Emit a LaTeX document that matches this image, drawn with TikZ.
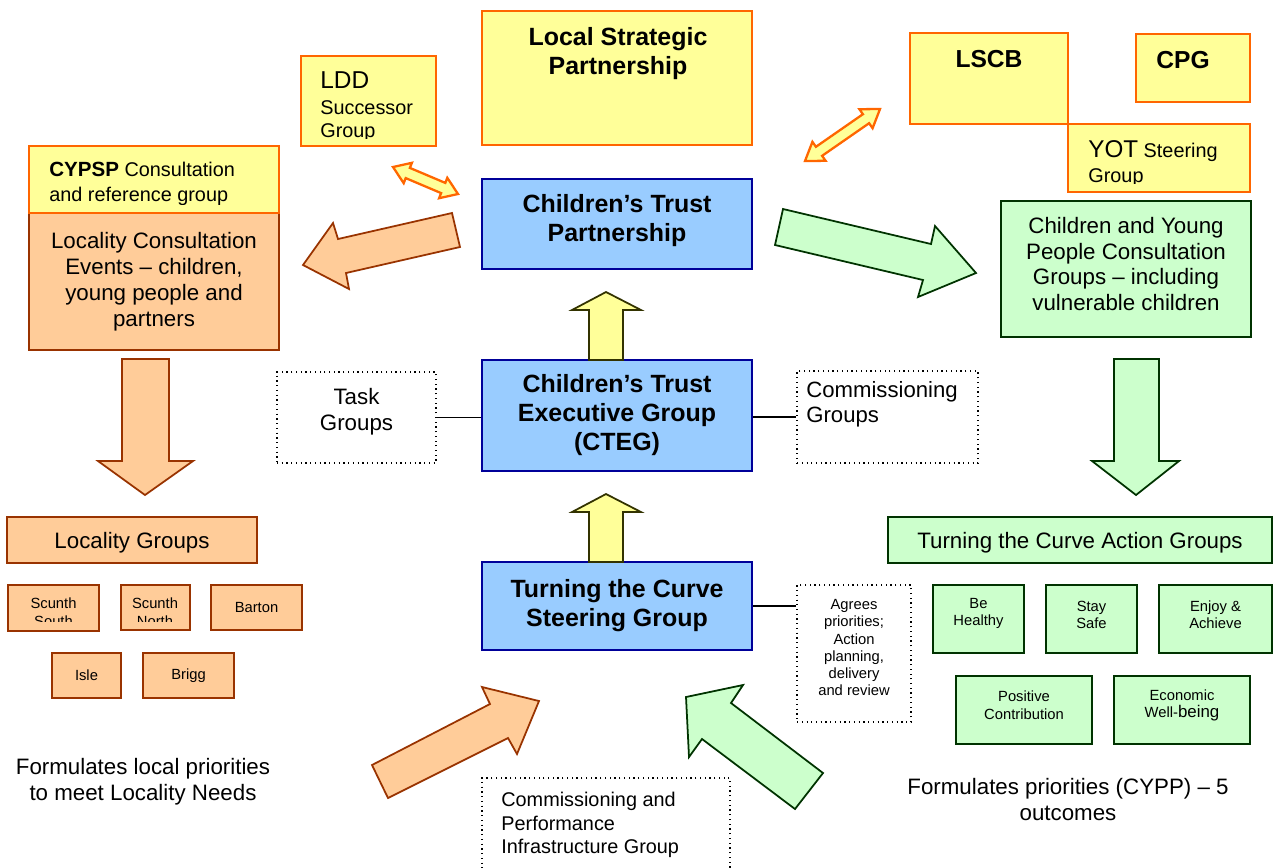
\documentclass[tikz,border=0pt]{standalone}
\usepackage{fontspec}
\setmainfont{Liberation Sans}
\definecolor{lemon}{HTML}{FFFF99}
\definecolor{tangerine}{HTML}{FF6600}
\definecolor{peach}{HTML}{FFCC99}
\definecolor{rust}{HTML}{993300}
\definecolor{mint}{HTML}{CCFFCC}
\definecolor{pine}{HTML}{003300}
\definecolor{sky}{HTML}{99CCFF}
\definecolor{navyline}{HTML}{000099}
\definecolor{darkolive}{HTML}{333300}
\tikzset{
  corners/.style args={#1/#2/#3/#4}{anchor=center,at={({(#1+#3)/2},{(#2+#4)/2})},
    minimum width={(#3-#1)*0.02cm},minimum height={(#4-#2)*0.02cm}},
  lift/.style={text depth=#1},
  txtbig/.style={font=\fontsize{12.7}{14.7}\selectfont},
  txtsmall/.style={font=\fontsize{8.4}{9.8}\selectfont},
  lbl/.style={inner sep=0pt},
  ybox/.style={draw=tangerine,fill=lemon,line width=1pt,inner sep=0pt},
  obox/.style={draw=rust,fill=peach,line width=1pt,inner sep=0pt,align=center},
  gbox/.style={draw=pine,fill=mint,line width=1pt,inner sep=0pt,align=center},
  bbox/.style={draw=navyline,fill=sky,line width=1pt,inner sep=0pt,align=center,
    font=\bfseries\fontsize{14.2}{16.5}\selectfont},
  dbox/.style={draw,dotted,line width=0.7pt,inner sep=0pt,align=center},
  oarrow/.style={draw=rust,fill=peach,line width=1pt},
  garrow/.style={draw=pine,fill=mint,line width=1pt},
  yarrow/.style={draw=darkolive,fill=lemon,line width=1pt},
  twoway/.style={draw=tangerine,fill=lemon,line width=1.3pt},
}
\begin{document}
\begin{tikzpicture}[x=0.02cm,y=-0.02cm]
\useasboundingbox (0,0) rectangle (1273,867);
\fill[white] (0,0) rectangle (1273,867);
% partnerships along the top
\node[ybox,corners=482/11/752/145] (lsp) {};
\node[lbl,anchor=base,align=center,font=\bfseries\fontsize{14.2}{16}\selectfont] (lsp-t) at (618,74) {Local Strategic\\Partnership};
\node[ybox,corners=301/56/436/146] (ldd) {};
\begin{scope}
\clip (301,56) rectangle (436,138);
\node[lbl,anchor=base west,align=left,font=\fontsize{11.3}{12.7}\selectfont] (ldd-t) at (320,137) {{\fontsize{13.9}{14}\selectfont LDD}\\[2pt]Successor\\Group};
\end{scope}
\node[ybox,corners=910/33/1068/124] (lscb) {};
\node[lbl,anchor=base,font=\bfseries\fontsize{14}{16}\selectfont] (lscb-t) at (989,67) {LSCB};
\node[ybox,corners=1136/34/1250/102] (cpg) {};
\node[lbl,anchor=base,font=\bfseries\fontsize{14}{16}\selectfont] (cpg-t) at (1183,68) {CPG};
\node[ybox,corners=1068/124/1250/192] (yot) {};
\begin{scope}
\clip (1068,124) rectangle (1250,183);
\node[lbl,anchor=base west,align=left,font=\fontsize{11.3}{13.8}\selectfont] (yot-t) at (1088,182) {{\fontsize{13.8}{14}\selectfont YOT} Steering\\Group};
\end{scope}
% left column
\node[obox,txtbig,corners=29/213/279/350] (locevents) {Locality Consultation\\Events – children,\\young people and\\partners};
\node[ybox,corners=29/146/279/213] (cypsp) {};
\begin{scope}
\clip (29,146) rectangle (279,204.5);
\node[lbl,anchor=base west,align=left,font=\fontsize{11.3}{13.8}\selectfont] (cypsp-t) at (49,201) {{\bfseries\fontsize{11.7}{13.8}\selectfont CYPSP} Consultation\\and reference group};
\end{scope}
\node[obox,txtbig,lift=0pt,corners=7/517/257/563] (locgroups) {Locality Groups};
\node[obox,corners=8/585/99/631] (ssouth) {};
\node[obox,corners=121/585/190/630] (snorth) {};
\begin{scope}
\clip (8,585) rectangle (190,621.5);
\node[lbl,anchor=base,align=center,font=\fontsize{8.4}{10}\selectfont] (ssouth-t) at (53.5,626) {Scunth\\South};
\node[lbl,anchor=base,align=center,font=\fontsize{8.4}{10}\selectfont] (snorth-t) at (155,626) {Scunth\\North};
\end{scope}
\node[obox,txtsmall,corners=211/585/302/630] (barton) {Barton};
\node[obox,txtsmall,corners=52/653/121/698] (isle) {Isle};
\node[obox,txtsmall,corners=143/653/234/698] (brigg) {Brigg};
\node[lbl,anchor=base,align=center,txtbig] (locnote) at (143,800) {Formulates local priorities\\to meet Locality Needs};
% centre column
\node[bbox,lift=6.4pt,corners=482/179/752/269] (ctp) {Children’s Trust\\Partnership};
\node[bbox,corners=482/360/752/471] (cteg) {Children’s Trust\\Executive Group\\(CTEG)};
\node[bbox,corners=482/562/752/650] (tcsg) {Turning the Curve\\Steering Group};
\node[dbox,txtbig,lift=9.5pt,corners=277/372/436/463] (task) {Task\\Groups};
\node[dbox,corners=797/371/978/463] (commgroups) {};
\node[lbl,anchor=base west,align=left,font=\fontsize{12.6}{14}\selectfont] (commgroups-t) at (806,422) {Commissioning\\Groups};
\node[dbox,txtsmall,lift=6.8pt,corners=797/585/911/722] (agrees) {Agrees\\priorities;\\Action\\planning,\\delivery\\and review};
\node[dbox,corners=482/778/730/890] (cpig) {};
\node[lbl,anchor=base west,align=left,font=\fontsize{11.3}{13.1}\selectfont] (cpig-t) at (501,853) {Commissioning and\\Performance\\Infrastructure Group};
\draw[line width=0.8pt] (task.east) -- (task.east -| cteg.west);
\draw[line width=0.8pt] (cteg.east |- commgroups.west) -- (commgroups.west);
\draw[line width=0.8pt] (tcsg.east) -- (tcsg.east -| agrees.west);
% right column
\node[gbox,txtbig,lift=5.8pt,corners=1001/201/1251/337] (cypgroups) {Children and Young\\People Consultation\\Groups – including\\vulnerable children};
\node[gbox,txtbig,lift=0pt,corners=888/517/1272/563] (tcaction) {Turning the Curve Action Groups};
\node[gbox,txtsmall,lift=7.8pt,corners=933/585/1024/653] (healthy) {Be\\Healthy};
\node[gbox,txtsmall,lift=5.1pt,corners=1046/585/1137/653] (safe) {Stay\\Safe};
\node[gbox,txtsmall,lift=5.1pt,corners=1159/585/1272/653] (enjoy) {Enjoy \&\\Achieve};
\node[gbox,txtsmall,lift=5.6pt,corners=956/676/1092/744] (positive) {Positive\\Contribution};
\node[gbox,txtsmall,lift=7.6pt,corners=1114/676/1250/744] (economic) {Economic\\Well-{\fontsize{9.6}{10}\selectfont being}};
\node[lbl,anchor=base,align=center,txtbig] (outnote) at (1068,820) {Formulates priorities (CYPP) – 5\\outcomes};
% block arrows
\draw[yarrow] (589,360) -- (589,310) -- (572,310) -- (606,292) -- (641,310) -- (623,310) -- (623,360) -- cycle;
\draw[yarrow] (589,562) -- (589,512) -- (572,512) -- (606,494) -- (641,512) -- (623,512) -- (623,562) -- cycle;
\draw[oarrow] (452,213) -- (338,239) -- (333,223) -- (303,265) -- (349,289) -- (346,273) -- (460,247) -- cycle;
\draw[garrow] (783,209) -- (931,244) -- (935,226) -- (976,273) -- (918,297) -- (923,280) -- (775,245) -- cycle;
\draw[oarrow] (122,359) -- (169,359) -- (169,461) -- (193,461) -- (145,495) -- (98,461) -- (122,461) -- cycle;
\draw[garrow] (1114,359) -- (1159,359) -- (1159,461) -- (1179,461) -- (1136,495) -- (1092,461) -- (1114,461) -- cycle;
\draw[oarrow] (372,765) -- (490,704) -- (482,687) -- (539,701) -- (517,754) -- (508,738) -- (388,798) -- cycle;
\draw[garrow] (823,773) -- (731,703) -- (743,685) -- (686,697) -- (689,757) -- (702,739) -- (795,809) -- cycle;
\draw[twoway] (393,167) -- (411.9,162.8) -- (409.9,167.9) -- (445.3,182.9) -- (447.3,177.8) -- (458,194) -- (439.1,198.2) -- (441.1,193.1) -- (405.7,178.1) -- (403.7,183.2) -- cycle;
\draw[twoway] (805,161) -- (812.4,141.8) -- (815.9,146.8) -- (862.9,114.2) -- (859.4,109.2) -- (880,109) -- (872.6,128.2) -- (869.1,123.2) -- (822.1,155.8) -- (825.6,160.8) -- cycle;
\end{tikzpicture}
\end{document}
